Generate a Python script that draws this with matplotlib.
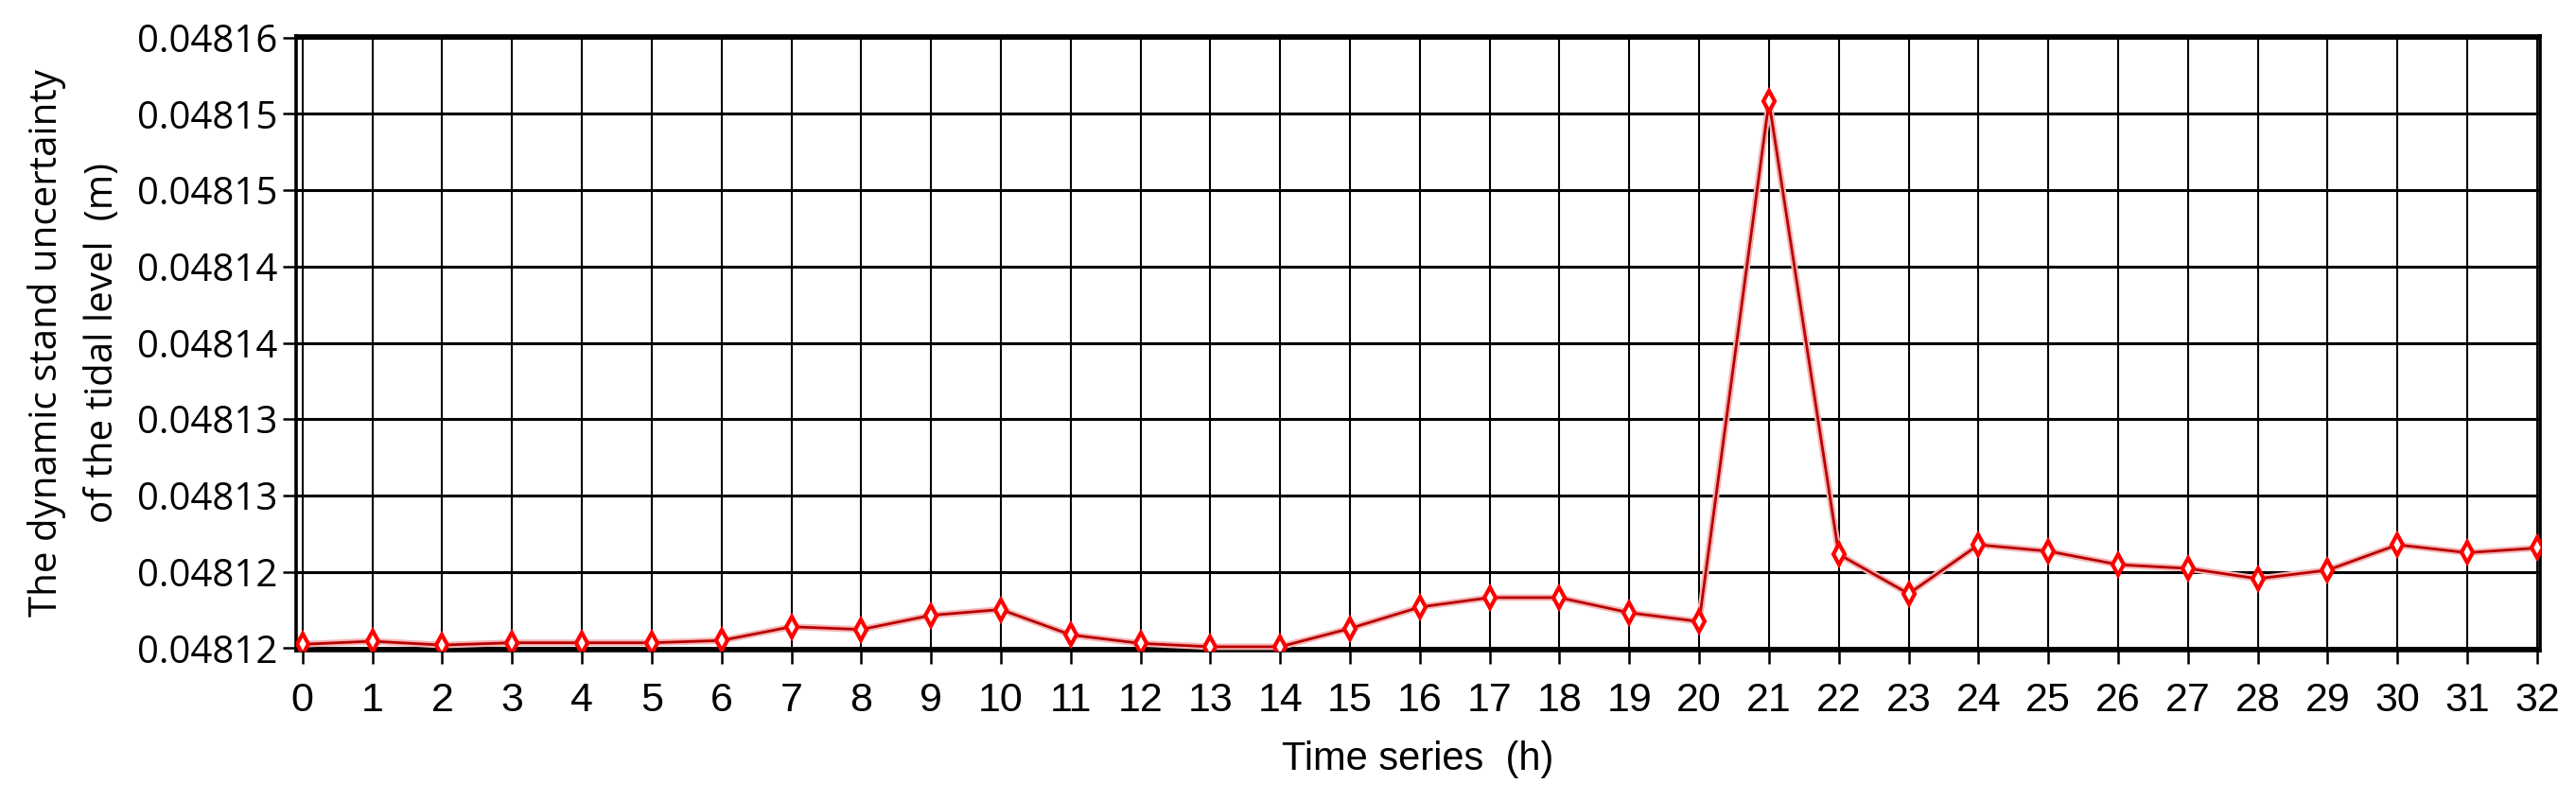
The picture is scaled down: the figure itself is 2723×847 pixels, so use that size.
import matplotlib
matplotlib.use("Agg")
import matplotlib.pyplot as plt
import numpy as np

#data
hours = list(range(33))
uncertainty = [
    0.04812025, 0.04812045, 0.04812020, 0.04812035, 0.04812035, 0.04812035,
    0.04812050, 0.04812140, 0.04812122, 0.04812215, 0.04812253, 0.04812087,
    0.04812031, 0.04812009, 0.04812009, 0.04812129, 0.04812269, 0.04812331,
    0.04812331, 0.04812232, 0.04812174, 0.04815581, 0.04812615, 0.04812356,
    0.04812677, 0.04812635, 0.04812547, 0.04812522, 0.04812455, 0.04812511,
    0.04812677, 0.04812625, 0.04812656,
]
ytick_values = [0.04812 + i * 0.000005 for i in range(9)]
ytick_labels = ['0.04812', '0.04812', '0.04813', '0.04813', '0.04814',
                '0.04814', '0.04815', '0.04815', '0.04816']

wide_font = ['Open Sans', 'DejaVu Sans']
narrow_font = ['Liberation Sans Narrow', 'Liberation Sans', 'DejaVu Sans']

#figure with the axes placed like the reference
fig = plt.figure(figsize=(27.23, 8.47), dpi=100)
ax = fig.add_axes([0.115, 0.188, 0.871, 0.767])

#pale halo under the line, then the line with open diamonds
ax.plot(hours, uncertainty, color='#f5b5b5', lw=5, zorder=3, solid_capstyle='round')
ax.plot(hours, uncertainty, color='#b80000', lw=2, zorder=4,
        marker='d', ms=11, mew=3, mec='#ff0000', mfc='white')

ax.set_xlim(-0.09, 32.04)
ax.set_ylim(ytick_values[0] - 0.00000015, ytick_values[-1] + 0.0000001)
ax.set_xticks(hours)
ax.set_xticklabels([str(h) for h in hours], family=narrow_font, fontsize=31)
ax.set_yticks(ytick_values)
ax.set_yticklabels(ytick_labels, family=wide_font, fontsize=29)

#black grid like the original software output
ax.grid(True, axis='y', color='black', lw=2.2)
ax.grid(True, axis='x', color='black', lw=1.5)
ax.set_axisbelow(True)
for side in ax.spines.values():
    side.set_linewidth(2.6)
ax.tick_params(axis='both', direction='out', length=10, width=1.8, color='black')
ax.tick_params(axis='x', pad=14)
ax.tick_params(axis='y', pad=4)

#axis titles
ax.set_xlabel('Time series  (h)', family=narrow_font, fontsize=30, labelpad=16)
ax.set_ylabel('The dynamic stand uncertainty\nof the tidal level  (m)',
              family=wide_font, fontsize=29, labelpad=12, linespacing=1.6)

fig.savefig('out.png', dpi=100)
